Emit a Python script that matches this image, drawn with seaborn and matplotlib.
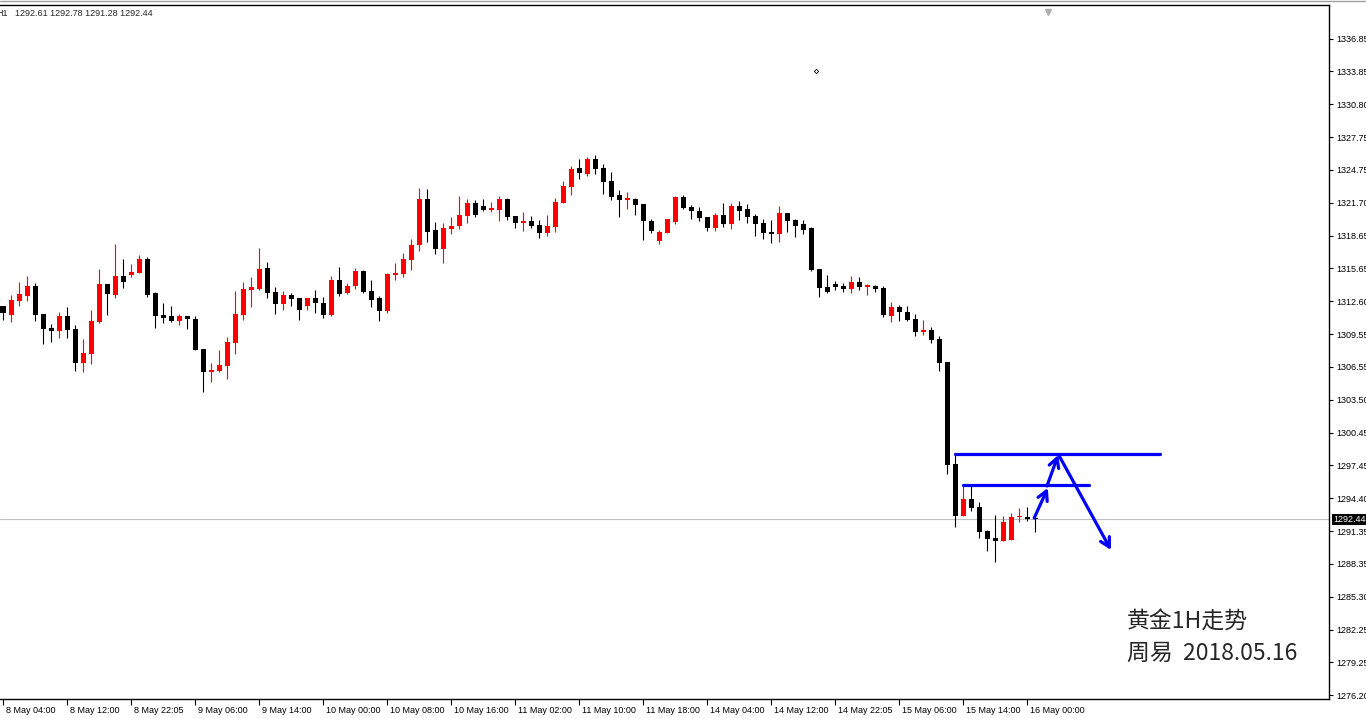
import matplotlib
matplotlib.use("Agg")
import matplotlib.pyplot as plt
import matplotlib.transforms as mtransforms
from matplotlib.lines import Line2D
import numpy as np
import pandas as pd
import seaborn as sns

sns.set_theme(style="white")
plt.rcParams['font.family'] = ['Liberation Sans', 'DejaVu Sans']

# XAUUSD H1 candles
opens = [1312.17, 1311.37, 1312.66, 1313.13, 1314.02, 1311.43, 1310.14, 1309.89, 1311.25, 1310.05,
         1306.94, 1307.77, 1310.72, 1314.21, 1313.22, 1314.94, 1315.07, 1315.25, 1316.52, 1313.37,
         1311.34, 1311.25, 1310.82, 1311.25, 1310.97, 1308.20, 1306.10, 1306.20, 1306.66, 1308.78,
         1311.37, 1313.68, 1313.77, 1315.68, 1313.47, 1312.39, 1313.19, 1312.91, 1312.20, 1312.91,
         1312.45, 1311.37, 1314.58, 1313.40, 1314.05, 1315.41, 1313.56, 1312.91, 1311.74, 1315.07,
         1315.16, 1316.45, 1317.84, 1322.06, 1319.20, 1317.47, 1319.32, 1319.60, 1320.52, 1321.69,
         1321.41, 1321.08, 1321.08, 1322.06, 1320.49, 1319.87, 1320.03, 1319.66, 1318.95, 1319.50,
         1321.72, 1323.20, 1324.93, 1324.40, 1325.76, 1324.93, 1323.72, 1322.43, 1322.00, 1322.06,
         1321.60, 1320.06, 1318.21, 1318.95, 1319.97, 1322.25, 1321.32, 1320.98, 1320.40, 1319.41,
         1320.58, 1319.78, 1321.41, 1321.14, 1320.49, 1319.84, 1319.01, 1318.86, 1320.77, 1320.12,
         1319.75, 1319.38, 1315.59, 1313.93, 1314.21, 1314.02, 1313.77, 1314.39, 1313.96, 1314.02,
         1313.84, 1311.28, 1312.08, 1311.62, 1310.97, 1309.80, 1309.95, 1309.12, 1307.00, 1297.57,
         1292.79, 1294.34, 1293.60, 1291.38, 1290.73, 1290.48, 1290.58, 1292.64, 1292.64, 1292.61]
highs = [1312.20, 1313.19, 1314.39, 1314.94, 1314.30, 1311.43, 1310.51, 1311.62, 1312.08, 1310.42,
         1309.12, 1311.80, 1315.59, 1314.21, 1317.90, 1316.52, 1316.05, 1316.89, 1316.70, 1313.47,
         1312.45, 1312.17, 1311.43, 1311.25, 1311.25, 1308.20, 1306.90, 1308.11, 1309.31, 1313.56,
         1314.39, 1314.85, 1317.53, 1316.24, 1313.93, 1313.56, 1313.37, 1312.91, 1312.91, 1313.65,
         1313.00, 1314.94, 1315.78, 1314.30, 1315.68, 1315.50, 1314.58, 1313.10, 1315.25, 1316.15,
         1317.07, 1318.36, 1323.08, 1322.99, 1319.94, 1319.87, 1320.40, 1322.34, 1322.06, 1321.97,
         1322.06, 1321.78, 1322.34, 1322.15, 1320.49, 1320.86, 1320.49, 1320.12, 1320.58, 1322.15,
         1323.73, 1325.11, 1325.76, 1325.94, 1326.13, 1325.30, 1324.56, 1322.89, 1322.71, 1322.15,
         1321.60, 1320.24, 1319.23, 1320.24, 1322.34, 1322.43, 1321.51, 1321.32, 1320.40, 1320.77,
         1321.69, 1321.69, 1321.88, 1321.60, 1320.68, 1320.24, 1320.15, 1321.41, 1320.77, 1320.21,
         1320.12, 1319.47, 1315.59, 1315.04, 1314.48, 1314.30, 1314.94, 1314.85, 1314.21, 1314.11,
         1314.02, 1312.54, 1312.27, 1312.17, 1311.43, 1310.88, 1310.23, 1309.40, 1307.00, 1298.40,
         1295.54, 1295.54, 1294.06, 1291.47, 1292.86, 1292.76, 1293.04, 1293.50, 1293.60, 1292.78]
lows = [1310.88, 1310.72, 1312.17, 1312.66, 1310.82, 1308.69, 1308.88, 1309.25, 1309.25, 1306.20,
        1306.10, 1306.84, 1310.63, 1311.37, 1312.94, 1313.87, 1314.88, 1315.25, 1313.03, 1310.17,
        1310.63, 1310.72, 1310.45, 1310.08, 1308.14, 1304.26, 1305.18, 1306.10, 1305.46, 1307.77,
        1310.91, 1312.11, 1313.65, 1312.94, 1311.46, 1311.83, 1312.20, 1310.91, 1311.83, 1311.56,
        1311.09, 1311.28, 1313.13, 1313.31, 1313.77, 1313.40, 1312.11, 1310.82, 1311.56, 1314.58,
        1314.88, 1315.53, 1317.29, 1318.12, 1317.01, 1316.18, 1318.86, 1319.32, 1319.87, 1320.43,
        1320.98, 1320.89, 1320.06, 1320.15, 1319.41, 1319.13, 1319.41, 1318.49, 1318.67, 1319.04,
        1321.72, 1322.46, 1323.94, 1324.22, 1324.37, 1322.55, 1322.00, 1320.43, 1321.17, 1320.55,
        1318.30, 1318.95, 1317.93, 1318.95, 1319.78, 1321.17, 1320.24, 1320.06, 1319.13, 1319.13,
        1319.50, 1319.32, 1320.15, 1319.87, 1318.67, 1318.40, 1318.03, 1318.12, 1319.04, 1318.58,
        1318.86, 1315.41, 1313.03, 1313.40, 1313.68, 1313.50, 1313.40, 1313.68, 1313.22, 1313.50,
        1311.16, 1310.72, 1310.82, 1310.82, 1309.43, 1309.52, 1308.78, 1306.20, 1296.68, 1291.78,
        1292.79, 1293.26, 1290.76, 1289.56, 1288.54, 1290.48, 1290.58, 1292.21, 1292.33, 1291.28]
closes = [1311.49, 1312.73, 1313.28, 1314.02, 1311.37, 1310.08, 1309.89, 1311.25, 1309.99, 1306.94,
          1307.83, 1310.79, 1314.21, 1313.31, 1314.94, 1314.42, 1315.31, 1316.52, 1313.22, 1311.28,
          1311.09, 1310.82, 1311.25, 1311.00, 1308.14, 1306.10, 1306.26, 1306.72, 1308.85, 1311.43,
          1313.74, 1313.93, 1315.59, 1313.40, 1312.39, 1313.19, 1312.85, 1311.83, 1312.91, 1312.48,
          1311.37, 1314.58, 1313.31, 1314.02, 1315.41, 1313.47, 1312.76, 1311.74, 1315.16, 1315.22,
          1316.52, 1317.81, 1322.06, 1319.04, 1317.47, 1319.38, 1319.57, 1320.58, 1321.69, 1320.61,
          1321.08, 1321.23, 1322.06, 1320.43, 1319.87, 1320.03, 1319.60, 1318.95, 1319.57, 1321.78,
          1323.26, 1324.83, 1324.46, 1325.76, 1324.83, 1323.66, 1322.28, 1322.00, 1322.06, 1321.54,
          1320.06, 1319.13, 1319.04, 1320.24, 1322.25, 1321.26, 1320.98, 1320.34, 1319.41, 1320.58,
          1319.78, 1321.41, 1320.98, 1320.43, 1319.78, 1318.95, 1318.86, 1320.77, 1320.06, 1319.60,
          1319.23, 1315.50, 1313.87, 1313.50, 1313.96, 1313.77, 1314.39, 1313.96, 1314.02, 1313.77,
          1311.34, 1312.08, 1311.65, 1310.91, 1309.80, 1309.95, 1309.06, 1306.94, 1297.51, 1292.79,
          1294.34, 1293.53, 1291.32, 1290.67, 1290.48, 1292.21, 1292.67, 1292.70, 1292.49, 1292.44]

time_labels = ["8 May 04:00", "8 May 12:00", "8 May 22:05", "9 May 06:00", "9 May 14:00",
               "10 May 00:00", "10 May 08:00", "10 May 16:00", "11 May 02:00", "11 May 10:00",
               "11 May 18:00", "14 May 04:00", "14 May 12:00", "14 May 22:05", "15 May 06:00",
               "15 May 14:00", "16 May 00:00"]
label_every = 8
price_ticks = [1336.85, 1333.85, 1330.80, 1327.75, 1324.75, 1321.70, 1318.65, 1315.65, 1312.60,
               1309.55, 1306.55, 1303.50, 1300.45, 1297.45, 1294.40, 1291.35, 1288.35, 1285.30,
               1282.25, 1279.25, 1276.20]
last_price = 1292.44
header = "1292.61 1292.78 1291.28 1292.44"

# hand-drawn objects on the chart (bar index, price)
level_x0 = [119, 120]
level_x1 = [144.6, 135.7]
level_y = [1298.45, 1295.60]
arrow_from = [(128.9, 1292.58), (130.5, 1295.54), (132.0, 1298.35)]
arrow_to = [(130.6, 1295.35), (131.9, 1298.40), (138.5, 1289.62)]
small_dot = (101.6, 1333.89)

df = pd.DataFrame({"open": opens, "high": highs, "low": lows, "close": closes})
df["bar"] = np.arange(len(df))
df["up"] = df["close"] >= df["open"]
df["color"] = np.where(df["up"], "#FF0000", "#000000")
df["bottom"] = df[["open", "close"]].min(axis=1)
df["body"] = (df["close"] - df["open"]).abs().clip(lower=0.12)

W, H = 1366, 718
fig = plt.figure(figsize=(W / 100, H / 100), dpi=100)
fig.patch.set_facecolor("white")
ax = fig.add_axes([0, 19 / H, 1329 / W, 694 / H])
ax.set_facecolor("white")

ax.axhline(last_price, color="#C0C0C0", lw=0.8, zorder=0.5)

ax.vlines(df["bar"], df["low"], df["high"], colors=df["color"], lw=0.8, zorder=2)
ax.bar(df["bar"], df["body"], bottom=df["bottom"], width=0.625, color=df["color"],
       linewidth=0, zorder=3)

# horizontal levels through seaborn
lv = pd.DataFrame({
    "x": level_x0 + level_x1,
    "y": level_y + level_y,
    "seg": [0, 1, 0, 1],
})
sns.lineplot(data=lv, x="x", y="y", units="seg", estimator=None, color="#0000FF",
             lw=2.3, ax=ax, legend=False, sort=False, zorder=4)
for a, b in zip(arrow_from, arrow_to):
    ax.annotate("", xy=b, xytext=a,
                arrowprops=dict(arrowstyle="->,head_length=0.55,head_width=0.3",
                                color="#0000FF", lw=2.3, shrinkA=0, shrinkB=0), zorder=4)

ax.plot([small_dot[0]], [small_dot[1]], marker="D", ms=2.2, mfc="white", mec="black", mew=0.6)

ax.set_xlim(-0.375, 165.75)
ax.set_ylim(1275.85, 1339.99)

for side in ["top", "right", "bottom"]:
    ax.spines[side].set_visible(True)
    ax.spines[side].set_color("black")
    ax.spines[side].set_linewidth(1.0)
ax.spines["left"].set_visible(False)

ax.set_xlabel("")
ax.set_ylabel("")
ax.yaxis.tick_right()
ax.set_yticks(price_ticks)
ax.set_yticklabels([f"{p:.2f}" for p in price_ticks])
ax.tick_params(axis="y", left=False, right=True, labelleft=False, labelright=True,
               direction="out", length=3, width=0.8, pad=2, labelsize=6.5, colors="black")
ax.set_xticks(np.arange(len(time_labels)) * label_every)
ax.set_xticklabels(time_labels, ha="left")
ax.tick_params(axis="x", bottom=True, direction="out", length=4, width=0.8, pad=1,
               labelsize=6.5, colors="black")
shift = mtransforms.ScaledTranslation(3 / 100, 0, fig.dpi_scale_trans)
for lab in ax.get_xticklabels():
    lab.set_transform(lab.get_transform() + shift)
ax.grid(False)

# current price box on the scale
tr = mtransforms.blended_transform_factory(ax.transAxes, ax.transData)
ax.text(1.0, last_price, f"{last_price:.2f}", transform=tr + mtransforms.ScaledTranslation(4 / 100, 0, fig.dpi_scale_trans),
        ha="left", va="center", fontsize=6.5, color="white", zorder=6, clip_on=False,
        bbox=dict(boxstyle="square,pad=0.15", fc="black", ec="none"))

# chart-shift marker
ax.plot([130.6], [0.99], marker="v", ms=5, color="#B0B0B0", clip_on=False,
        transform=mtransforms.blended_transform_factory(ax.transData, ax.transAxes))

fig.add_artist(Line2D([0, 1], [1 - 1 / H, 1 - 1 / H], color="#A0A0A0", lw=1.0))
fig.text(-4 / W, 1 - 13 / H, "H1", fontsize=6.5, va="center", ha="left")
fig.text(15 / W, 1 - 13 / H, header, fontsize=6.5, va="center", ha="left")

cjk = ["Noto Sans CJK SC", "DejaVu Sans"]
fig.text(1127 / W, 1 - 622 / H, "黄金1H走势", fontsize=16.5, family=cjk, va="center", ha="left")
fig.text(1127 / W, 1 - 653 / H, "周易  2018.05.16", fontsize=16.5, family=cjk, va="center", ha="left")

fig.savefig("out.png", dpi=100, facecolor="white")
